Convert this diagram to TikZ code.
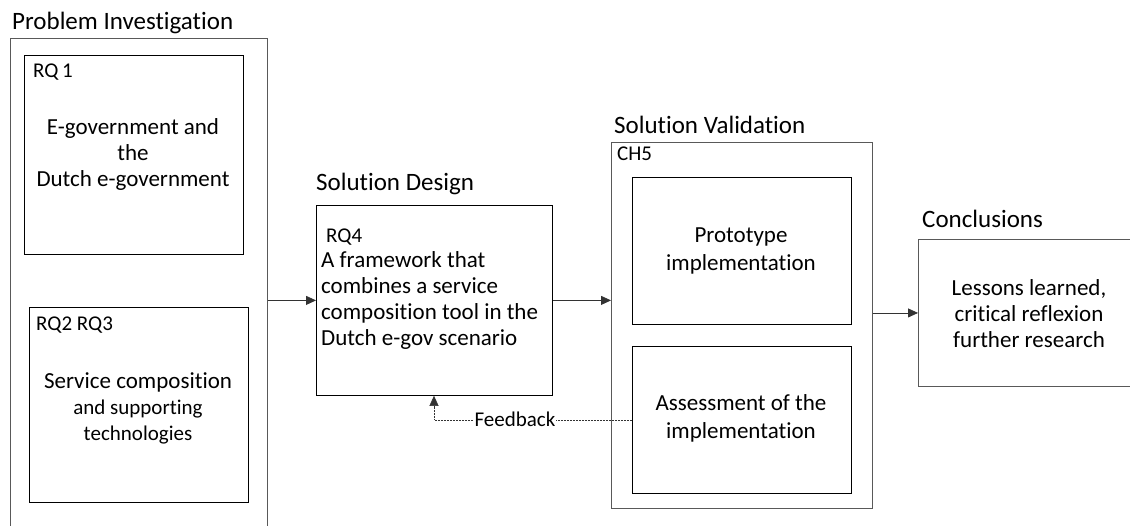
\documentclass[tikz,border=0pt]{standalone}
\usepackage{fontspec}
\setmainfont{Carlito}[Ligatures=NoCommon]
\usetikzlibrary{arrows.meta}
\begin{document}
\begin{tikzpicture}[x=1pt,y=-1pt,
  outerbox/.style={draw=black!65,line width=0.9pt,rectangle,anchor=north west,inner sep=0pt},
  innerbox/.style={draw=black,line width=0.8pt,rectangle,anchor=north west,inner sep=0pt},
  title/.style={anchor=west,font=\fontsize{25}{30}\selectfont,inner sep=0pt},
  tag/.style={anchor=west,font=\fontsize{21}{24}\selectfont,inner sep=0pt},
  body/.style={align=center,font=\fontsize{23}{26}\selectfont,inner sep=0pt},
  arr/.style={-{Triangle[length=10pt,width=9pt]},line width=0.8pt,draw=black!80},
  fb/.style={-{Triangle[length=10pt,width=9pt]},line width=0.5pt,draw=black!80,dash pattern=on 1pt off 0.5pt}
]
\clip (0,0) rectangle (1130,526);
\fill[white] (0,0) rectangle (1130,526);

% titles
\node[title] (tpi) at (12,23) {Problem Investigation};
\node[title] (tsd) at (316,184) {Solution Design};
\node[title] (tsv) at (614,125) {Solution Validation};
\node[title] (tcn) at (922,219) {Conclusions};

% Problem investigation
\node[outerbox,minimum width=257,minimum height=510] (pi) at (10,38) {};
\node[innerbox,minimum width=219,minimum height=199] (rq1) at (24,55) {};
\node[tag] (rq1t) at (33,72) {RQ\,1};
\node[body] (rq1b) at (133,154) {E-government and\\the\\Dutch e-government};
\node[innerbox,minimum width=219,minimum height=195] (rq2) at (29,307) {};
\node[tag] (rq2t) at (36,325) {RQ2 RQ3};
\node[body] (rq2b) at (138,408) {Service composition\\{\fontsize{21}{26}\selectfont and supporting}\\{\fontsize{21}{26}\selectfont technologies}};

% Solution design
\node[innerbox,minimum width=236,minimum height=190] (sd) at (316,205) {};
\node[tag] (rq4t) at (326,237) {RQ4};
\node[body,align=left,anchor=west] (sdb) at (321,300) {A framework that\\combines a service\\composition tool in the\\Dutch e-gov scenario};

% Solution validation
\node[outerbox,minimum width=261,minimum height=366] (sv) at (611,142) {};
\node[tag] (ch5) at (617,154) {CH5};
\node[innerbox,minimum width=219,minimum height=147] (pr) at (632,177) {};
\node[body,font=\fontsize{23}{28}\selectfont] (prb) at (741,251) {Prototype\\implementation};
\node[innerbox,minimum width=219,minimum height=147] (as) at (632,346) {};
\node[body,font=\fontsize{23}{28}\selectfont] (asb) at (741,418) {Assessment of the\\implementation};

% Conclusions
\node[outerbox,minimum width=260,minimum height=147] (cn) at (918,239) {};
\node[body] (cnb) at (1029,314) {Lessons learned,\\critical reflexion\\further research};

% connectors
\draw[arr] (pi.east |- sd.west) -- (sd.west);
\draw[arr] (sd.east) -- (sd.east -| sv.west);
\draw[arr] (sv.east |- cn.west) -- (cn.west);
\coordinate (fbx) at (434,0);
\draw[fb] (as.west) -| (sd.south -| fbx);
\node[fill=white,inner sep=1pt,font=\fontsize{21}{24}\selectfont] (fbl) at (515,419) {Feedback};
\end{tikzpicture}
\end{document}
